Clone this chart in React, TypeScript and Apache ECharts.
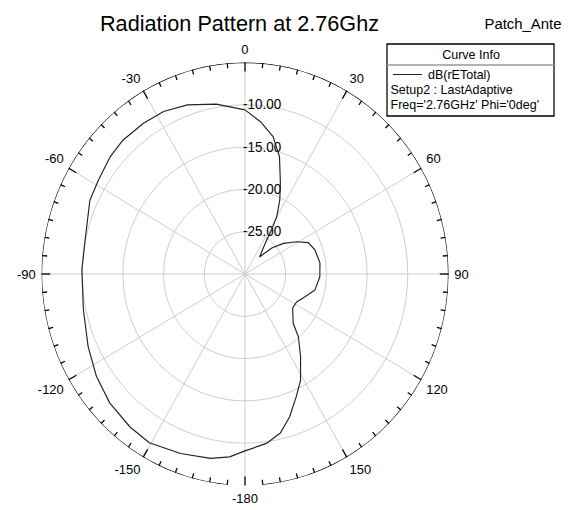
import React, { useEffect, useRef } from "react";
import * as echarts from "echarts";

// ---- data ----
const titleText = "Radiation Pattern at 2.76Ghz";
const projectText = "Patch_Ante";
const legendTitle = "Curve Info";
const legendLines = ["dB(rETotal)", "Setup2 : LastAdaptive", "Freq='2.76GHz' Phi='0deg'"];

// radial axis (dB)
const radiusMin = -30;
const radiusMax = -5;
const radiusStep = 5;
const radiusLabelValues = [-25, -20, -15, -10];

// angle axis (deg), 0 at top, clockwise positive
const angleStep = 30;
const minorAngleStep = 5;

// pattern, angle (deg) and dB(rETotal)
const patternAngles = [
  0, 6, 12, 17, 22, 26, 30, 32, 33.5, 41.5,
  47, 52.5, 59, 64.5, 71.5, 82, 92, 102.5, 110, 117.5,
  124.5, 134.5, 138.5, 145, 151.5, 156.5, 162, 167, 172.5, 180,
  -175, -169, -159.5, -149.5, -142, -132.5, -123.5, -114, -102, -88.5,
  -78.5, -65.5, -58.5, -50, -43.5, -35, -27.5, -19.5, -10, 0,
];
const patternDb = [
  -10.6, -11.9, -13.4, -15.5, -18.4, -20.25, -22.2, -23.85, -25.2, -27.3,
  -25.5, -24.05, -22.6, -21.4, -20.95, -20.7, -20.8, -21.2, -22.15, -22.85,
  -22.9, -21.7, -20.1, -18.1, -15.7, -14.2, -12.25, -10.7, -9.8, -9.1,
  -8.3, -7.8, -7.35, -6.85, -7.05, -7.45, -8.1, -8.9, -9.7, -9.95,
  -9.95, -9.05, -8.85, -8.4, -8.2, -8.25, -8.35, -8.8, -9.6, -10.6,
];

// ---- layout ----
const K = 0.962; // horizontal squeeze of the reference picture
const W = 569 / K;
const H = 510;
const lx = (x: number) => x / K;
const FONT = "'Liberation Sans', Arial, sans-serif";

export default function App() {
  const ref = useRef<HTMLDivElement>(null);

  useEffect(() => {
    if (!ref.current) return;
    const chart = echarts.init(ref.current, undefined, { renderer: "svg" });

    const toAxisAngle = (a: number) => (a < 0 ? a + 360 : a);
    const curve = patternAngles.map((a, i) => [patternDb[i], toAxisAngle(a)]);

    // outer boundary circle (with the gap around 180 as in the reference)
    const arcA: number[][] = [];
    for (let a = 185; a <= 360; a += 1) arcA.push([radiusMax, a]);
    const arcB: number[][] = [];
    for (let a = 0; a <= 175; a += 1) arcB.push([radiusMax, a]);

    // tick marks on the outer circle, pointing inward
    const ticks: number[][] = [];
    for (let a = 0; a < 360; a += minorAngleStep) ticks.push([radiusMax, a]);

    const ringColors = [];
    for (let v = radiusMin; v <= radiusMax; v += radiusStep) {
      ringColors.push(v === radiusMax ? "rgba(0,0,0,0)" : "#cccccc");
    }

    const option: any = {
      animation: false,
      backgroundColor: "#ffffff",
      polar: { center: [lx(245), 274], radius: 211.5 },
      angleAxis: {
        type: "value",
        min: 0,
        max: 360,
        interval: angleStep,
        startAngle: 90,
        clockwise: true,
        axisLine: { show: false },
        axisTick: { show: false },
        axisLabel: {
          show: true,
          margin: 6,
          color: "#000",
          fontSize: 13.5,
          fontFamily: FONT,
          formatter: (v: number) =>
            v === 360 ? "" : v === 180 ? "-180" : v > 180 ? String(v - 360) : String(v),
        },
        splitLine: { show: true, lineStyle: { color: "#cccccc", width: 1 } },
      },
      radiusAxis: {
        type: "value",
        min: radiusMin,
        max: radiusMax,
        interval: radiusStep,
        axisLine: { show: false },
        axisTick: { show: false },
        axisLabel: {
          margin: 2,
          align: "left",
          color: "#000",
          fontSize: 14,
          fontFamily: FONT,
          verticalAlign: "middle",
          padding: [0, 0, 6, 0],
          formatter: (v: number) => (radiusLabelValues.includes(v) ? v.toFixed(2) : ""),
        },
        splitLine: { show: true, lineStyle: { color: ringColors, width: 1 } },
      },
      series: [
        {
          type: "line",
          coordinateSystem: "polar",
          data: arcA,
          symbol: "none",
          silent: true,
          lineStyle: { color: "#000", width: 1.3 },
        },
        {
          type: "line",
          coordinateSystem: "polar",
          data: arcB,
          symbol: "none",
          silent: true,
          lineStyle: { color: "#000", width: 1.3 },
        },
        {
          type: "custom",
          coordinateSystem: "polar",
          silent: true,
          data: ticks,
          dimensions: ["radius", "angle"],
          encode: { radius: 0, angle: 1 },
          renderItem: (params: any, api: any) => {
            const a = api.value(1);
            const p = api.coord([radiusMax, a]);
            const c = api.coord([radiusMin, a]);
            const dx = c[0] - p[0];
            const dy = c[1] - p[1];
            const d = Math.sqrt(dx * dx + dy * dy) || 1;
            const len = a % angleStep === 0 ? 9 : 5;
            return {
              type: "line",
              shape: { x1: p[0], y1: p[1], x2: p[0] + (dx / d) * len, y2: p[1] + (dy / d) * len },
              style: { stroke: "#000", lineWidth: 1.3 },
            };
          },
        },
        {
          name: legendLines[0],
          type: "line",
          coordinateSystem: "polar",
          data: curve,
          symbol: "none",
          silent: true,
          lineStyle: { color: "#222", width: 1.2 },
        },
      ],
      graphic: [
        {
          type: "text",
          x: lx(100),
          y: 23,
          style: { text: titleText, fill: "#000", fontSize: 22.5, fontFamily: FONT, verticalAlign: "middle" },
        },
        {
          type: "text",
          x: lx(484.5),
          y: 23,
          style: { text: projectText, fill: "#000", fontSize: 15.5, fontFamily: FONT, verticalAlign: "middle" },
        },
        {
          type: "rect",
          shape: { x: lx(387), y: 44, width: lx(554) - lx(387), height: 72 },
          style: { fill: "#fff", stroke: "#000", lineWidth: 1.3 },
        },
        {
          type: "line",
          shape: { x1: lx(387), y1: 65, x2: lx(554), y2: 65 },
          style: { stroke: "#9a9a9a", lineWidth: 1.5 },
        },
        {
          type: "text",
          x: lx(471),
          y: 54,
          style: { text: legendTitle, fill: "#000", fontSize: 13, fontFamily: FONT, align: "center", verticalAlign: "middle" },
        },
        {
          type: "line",
          shape: { x1: lx(393), y1: 74.5, x2: lx(422), y2: 74.5 },
          style: { stroke: "#222", lineWidth: 1 },
        },
        {
          type: "text",
          x: lx(428),
          y: 74.5,
          style: { text: legendLines[0], fill: "#000", fontSize: 13, fontFamily: FONT, verticalAlign: "middle" },
        },
        {
          type: "text",
          x: lx(390.5),
          y: 89.5,
          style: { text: legendLines[1], fill: "#000", fontSize: 13, fontFamily: FONT, verticalAlign: "middle" },
        },
        {
          type: "text",
          x: lx(390.5),
          y: 104,
          style: { text: legendLines[2], fill: "#000", fontSize: 13, fontFamily: FONT, verticalAlign: "middle" },
        },
      ],
    };

    chart.setOption(option);
    return () => chart.dispose();
  }, []);

  return (
    <div style={{ position: "fixed", left: 0, top: 0, width: 569, height: H, overflow: "hidden", background: "#fff" }}>
      <div
        ref={ref}
        style={{ width: W, height: H, transform: `scaleX(${K})`, transformOrigin: "0 0" }}
      />
    </div>
  );
}
